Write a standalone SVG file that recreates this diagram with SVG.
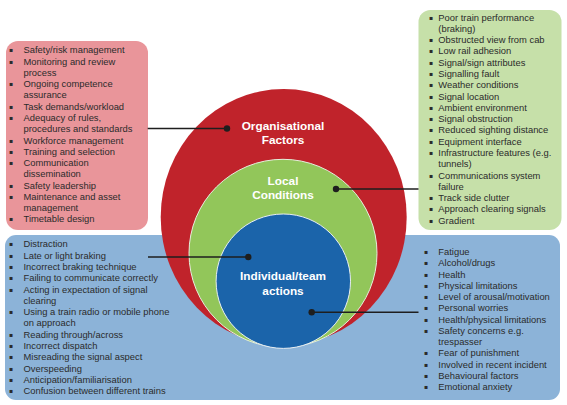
<svg xmlns="http://www.w3.org/2000/svg" width="567" height="405" viewBox="0 0 567 405">
<style>
.li{font-family:"Liberation Sans",Arial,sans-serif;font-size:9.4px;fill:#2b2b2b}
.bu{font-family:"DejaVu Sans",sans-serif;font-size:6px;fill:#2b2b2b;text-anchor:middle}
.ttl{font-family:"Liberation Sans",Arial,sans-serif;font-size:11.8px;font-weight:bold;fill:#ffffff;text-anchor:middle}
.conn{stroke:#1e1e1e;stroke-width:1.5;fill:none}
.dot{fill:#1e1e1e}
</style>
<rect width="567" height="405" fill="#ffffff"/>
<g id="individual-factors">
<rect x="5" y="235" width="555" height="165" rx="11" fill="#8cb3d8"/>
<text class="bu" transform="translate(0,-1)"><tspan x="11" y="247.3">▪</tspan><tspan x="11" y="258.6">▪</tspan><tspan x="11" y="269.9">▪</tspan><tspan x="11" y="281.2">▪</tspan><tspan x="11" y="292.5">▪</tspan><tspan x="11" y="315.1">▪</tspan><tspan x="11" y="337.7">▪</tspan><tspan x="11" y="349">▪</tspan><tspan x="11" y="360.3">▪</tspan><tspan x="11" y="371.6">▪</tspan><tspan x="11" y="382.9">▪</tspan><tspan x="11" y="394.2">▪</tspan></text>
<text class="li">
<tspan x="23.5" y="247.3">Distraction</tspan>
<tspan x="23.5" y="258.6">Late or light braking</tspan>
<tspan x="23.5" y="269.9">Incorrect braking technique</tspan>
<tspan x="23.5" y="281.2">Failing to communicate correctly</tspan>
<tspan x="23.5" y="292.5">Acting in expectation of signal</tspan>
<tspan x="23.5" y="303.8">clearing</tspan>
<tspan x="23.5" y="315.1">Using a train radio or mobile phone</tspan>
<tspan x="23.5" y="326.4">on approach</tspan>
<tspan x="23.5" y="337.7">Reading through/across</tspan>
<tspan x="23.5" y="349">Incorrect dispatch</tspan>
<tspan x="23.5" y="360.3">Misreading the signal aspect</tspan>
<tspan x="23.5" y="371.6">Overspeeding</tspan>
<tspan x="23.5" y="382.9">Anticipation/familiarisation</tspan>
<tspan x="23.5" y="394.2">Confusion between different trains</tspan>
</text>
<text class="bu" transform="translate(0,-1)"><tspan x="426" y="255">▪</tspan><tspan x="426" y="266.25">▪</tspan><tspan x="426" y="277.5">▪</tspan><tspan x="426" y="288.75">▪</tspan><tspan x="426" y="300">▪</tspan><tspan x="426" y="311.25">▪</tspan><tspan x="426" y="322.5">▪</tspan><tspan x="426" y="333.75">▪</tspan><tspan x="426" y="356.25">▪</tspan><tspan x="426" y="367.5">▪</tspan><tspan x="426" y="378.75">▪</tspan><tspan x="426" y="390">▪</tspan></text>
<text class="li">
<tspan x="438.3" y="255">Fatigue</tspan>
<tspan x="438.3" y="266.25">Alcohol/drugs</tspan>
<tspan x="438.3" y="277.5">Health</tspan>
<tspan x="438.3" y="288.75">Physical limitations</tspan>
<tspan x="438.3" y="300">Level of arousal/motivation</tspan>
<tspan x="438.3" y="311.25">Personal worries</tspan>
<tspan x="438.3" y="322.5">Health/physical limitations</tspan>
<tspan x="438.3" y="333.75">Safety concerns e.g.</tspan>
<tspan x="438.3" y="345">trespasser</tspan>
<tspan x="438.3" y="356.25">Fear of punishment</tspan>
<tspan x="438.3" y="367.5">Involved in recent incident</tspan>
<tspan x="438.3" y="378.75">Behavioural factors</tspan>
<tspan x="438.3" y="390">Emotional anxiety</tspan>
</text>
</g>
<g id="organisational-factors">
<rect x="6" y="41" width="142" height="189" rx="12" fill="#e9959a"/>
<text class="bu" transform="translate(0,-1)"><tspan x="11" y="53.3">▪</tspan><tspan x="11" y="64.6">▪</tspan><tspan x="11" y="87.1">▪</tspan><tspan x="11" y="109.7">▪</tspan><tspan x="11" y="120.9">▪</tspan><tspan x="11" y="143.5">▪</tspan><tspan x="11" y="154.7">▪</tspan><tspan x="11" y="166">▪</tspan><tspan x="11" y="188.5">▪</tspan><tspan x="11" y="199.8">▪</tspan><tspan x="11" y="222.4">▪</tspan></text>
<text class="li">
<tspan x="23.5" y="53.3">Safety/risk management</tspan>
<tspan x="23.5" y="64.6">Monitoring and review</tspan>
<tspan x="23.5" y="75.8">process</tspan>
<tspan x="23.5" y="87.1">Ongoing competence</tspan>
<tspan x="23.5" y="98.4">assurance</tspan>
<tspan x="23.5" y="109.7">Task demands/workload</tspan>
<tspan x="23.5" y="120.9">Adequacy of rules,</tspan>
<tspan x="23.5" y="132.2">procedures and standards</tspan>
<tspan x="23.5" y="143.5">Workforce management</tspan>
<tspan x="23.5" y="154.7">Training and selection</tspan>
<tspan x="23.5" y="166">Communication</tspan>
<tspan x="23.5" y="177.3">dissemination</tspan>
<tspan x="23.5" y="188.5">Safety leadership</tspan>
<tspan x="23.5" y="199.8">Maintenance and asset</tspan>
<tspan x="23.5" y="211.1">management</tspan>
<tspan x="23.5" y="222.4">Timetable design</tspan>
</text>
</g>
<g id="local-conditions">
<rect x="418.5" y="10" width="143" height="220" rx="12" fill="#c6e0a9"/>
<text class="bu" transform="translate(0,-1)"><tspan x="431" y="20.6">▪</tspan><tspan x="431" y="43.2">▪</tspan><tspan x="431" y="54.4">▪</tspan><tspan x="431" y="65.7">▪</tspan><tspan x="431" y="77">▪</tspan><tspan x="431" y="88.3">▪</tspan><tspan x="431" y="99.6">▪</tspan><tspan x="431" y="110.8">▪</tspan><tspan x="431" y="122.1">▪</tspan><tspan x="431" y="133.4">▪</tspan><tspan x="431" y="144.7">▪</tspan><tspan x="431" y="156">▪</tspan><tspan x="431" y="178.5">▪</tspan><tspan x="431" y="201.1">▪</tspan><tspan x="431" y="212.4">▪</tspan><tspan x="431" y="223.6">▪</tspan></text>
<text class="li">
<tspan x="438.3" y="20.6">Poor train performance</tspan>
<tspan x="438.3" y="31.9">(braking)</tspan>
<tspan x="438.3" y="43.2">Obstructed view from cab</tspan>
<tspan x="438.3" y="54.4">Low rail adhesion</tspan>
<tspan x="438.3" y="65.7">Signal/sign attributes</tspan>
<tspan x="438.3" y="77">Signalling fault</tspan>
<tspan x="438.3" y="88.3">Weather conditions</tspan>
<tspan x="438.3" y="99.6">Signal location</tspan>
<tspan x="438.3" y="110.8">Ambient environment</tspan>
<tspan x="438.3" y="122.1">Signal obstruction</tspan>
<tspan x="438.3" y="133.4">Reduced sighting distance</tspan>
<tspan x="438.3" y="144.7">Equipment interface</tspan>
<tspan x="438.3" y="156">Infrastructure features (e.g.</tspan>
<tspan x="438.3" y="167.2">tunnels)</tspan>
<tspan x="438.3" y="178.5">Communications system</tspan>
<tspan x="438.3" y="189.8">failure</tspan>
<tspan x="438.3" y="201.1">Track side clutter</tspan>
<tspan x="438.3" y="212.4">Approach clearing signals</tspan>
<tspan x="438.3" y="223.6">Gradient</tspan>
</text>
</g>
<g id="organisational-circle">
<ellipse cx="283.7" cy="217" rx="123" ry="128" fill="#c0232b"/>
</g>
<g id="local-circle">
<circle cx="283" cy="253.3" r="94" fill="#92c65a" stroke="#e6eedd" stroke-width="1"/>
</g>
<g id="individual-circle">
<circle cx="283.3" cy="281.2" r="67.2" fill="#1b64aa" stroke="#e8eef2" stroke-width="1"/>
</g>
<g id="connectors">
<line class="conn" x1="147.7" y1="128.5" x2="227" y2="128.5"/>
<circle class="dot" cx="227" cy="128.5" r="3.2"/>
<line class="conn" x1="336" y1="189" x2="418.5" y2="189"/>
<circle class="dot" cx="336" cy="189" r="3.2"/>
<line class="conn" x1="148" y1="257" x2="248.3" y2="257"/>
<circle class="dot" cx="248.3" cy="257" r="3.2"/>
<line class="conn" x1="311.7" y1="312.3" x2="418.5" y2="312.3"/>
<circle class="dot" cx="311.7" cy="312.3" r="3.2"/>
</g>
<g id="labels">
<text class="ttl"><tspan x="283" y="130">Organisational</tspan><tspan x="283" y="144.3">Factors</tspan></text>
<text class="ttl"><tspan x="283" y="185">Local</tspan><tspan x="283" y="199.3">Conditions</tspan></text>
<text class="ttl"><tspan x="283" y="280.3">Individual/team</tspan><tspan x="283" y="294.5">actions</tspan></text>
</g>
</svg>
